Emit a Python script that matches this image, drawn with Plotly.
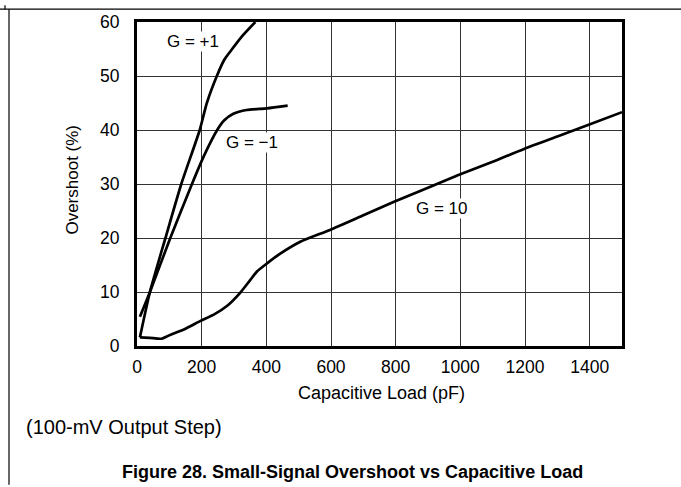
import plotly.graph_objects as go

# ---- data ----
g_plus1_x = [9, 40, 88, 137, 194, 216, 247, 270, 288, 324, 366]
g_plus1_y = [1.6, 10, 20, 30, 40, 45, 50, 53, 54.5, 57.3, 60]

g_minus1_x = [9, 40, 103, 170, 207, 248, 270, 298, 339, 402, 466]
g_minus1_y = [5.4, 10, 20, 30, 35.2, 40, 41.8, 43.0, 43.7, 44.0, 44.5]

g10_x = [9, 40, 76, 97, 150, 195, 240, 278, 319, 350, 371, 402, 443, 505, 597,
         700, 795, 900, 996, 1100, 1197, 1300, 1399, 1500]
g10_y = [1.6, 1.5, 1.35, 1.9, 3.2, 4.6, 5.9, 7.4, 9.85, 12.2, 13.8, 15.3, 17.1, 19.3, 21.5,
         24.2, 26.7, 29.3, 31.7, 34.1, 36.5, 38.8, 41.0, 43.3]

x_ticks = [0, 200, 400, 600, 800, 1000, 1200, 1400]
y_ticks = [0, 10, 20, 30, 40, 50, 60]

curve_labels = ["G = +1", "G = \u22121", "G = 10"]
label_x = [174, 356, 944]
label_y = [56.3, 37.6, 25.4]

FONT = "Liberation Sans, Arial, sans-serif"

fig = go.Figure()
for xs, ys in [(g_plus1_x, g_plus1_y), (g_minus1_x, g_minus1_y), (g10_x, g10_y)]:
    fig.add_trace(go.Scatter(x=xs, y=ys, mode="lines",
                             line=dict(color="black", width=2.7, shape="spline", smoothing=0.6),
                             showlegend=False, hoverinfo="skip"))

for t, lx, ly in zip(curve_labels, label_x, label_y):
    fig.add_annotation(x=lx, y=ly, text=t, showarrow=False, xref="x", yref="y",
                       font=dict(family=FONT, size=17, color="black"),
                       bgcolor="white", borderpad=0)

L, R, T, B = 137, 622, 17, 346
W, H = 681, 487
pw, ph = R - L, B - T

def px(xp):
    return (xp - L) / pw

def py(yp):
    return (B - yp) / ph

# text outside plot
fig.add_annotation(x=px(381), y=py(394), text="Capacitive Load (pF)", showarrow=False,
                   xref="paper", yref="paper", xanchor="center", yanchor="middle",
                   font=dict(family=FONT, size=18, color="black"))
fig.add_annotation(x=px(73), y=py(177), text="Overshoot (%)", showarrow=False, textangle=-90,
                   xref="paper", yref="paper", xanchor="center", yanchor="middle",
                   font=dict(family=FONT, size=17, color="black"))
fig.add_annotation(x=px(24), y=py(428), text="(100-mV Output Step)", showarrow=False,
                   xref="paper", yref="paper", xanchor="left", yanchor="middle",
                   font=dict(family=FONT, size=20, color="black"))
fig.add_annotation(x=px(352), y=py(474), text="<b>Figure 28. Small-Signal Overshoot vs Capacitive Load</b>",
                   showarrow=False, xref="paper", yref="paper", xanchor="center", yanchor="middle",
                   font=dict(family=FONT, size=18, color="black"))

# page frame lines
fig.add_shape(type="line", xref="paper", yref="paper", x0=px(0), x1=px(W), y0=py(4), y1=py(4),
              line=dict(color="black", width=1.2))
fig.add_shape(type="line", xref="paper", yref="paper", x0=px(9), x1=px(9), y0=py(4), y1=py(H),
              line=dict(color="black", width=1.2))
fig.add_shape(type="line", xref="paper", yref="paper", x0=px(5), x1=px(5), y0=py(0), y1=py(4),
              line=dict(color="black", width=1.2))

axis_common = dict(showline=True, mirror=True, linecolor="black", linewidth=3,
                   showgrid=True, gridcolor="#333333", gridwidth=1, zeroline=False,
                   ticks="", tickfont=dict(family=FONT, size=17.5, color="black"))

fig.update_xaxes(range=[0, 1500], tickvals=x_ticks, ticklabelstandoff=3, **axis_common)
fig.update_yaxes(range=[0, 60], tickvals=y_ticks, ticklabelstandoff=11, **axis_common)

fig.update_layout(width=W, height=H, margin=dict(l=L, r=W - R, t=T, b=H - B),
                  plot_bgcolor="white", paper_bgcolor="white",
                  font=dict(family=FONT, color="black"))

fig.write_html("out.html", config={"displayModeBar": False},
               post_script="document.body.style.margin='0';document.body.style.overflow='hidden';")
